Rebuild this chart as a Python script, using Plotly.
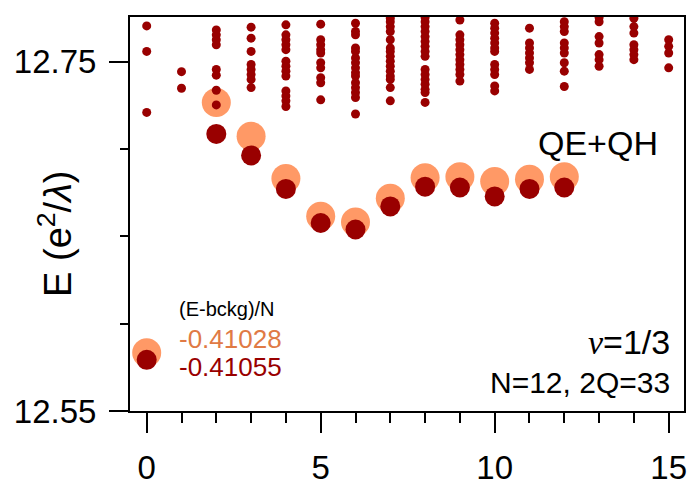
import plotly.graph_objects as go

# ---------------- data ----------------
L_ground = [0, 2, 3, 4, 5, 6, 7, 8, 9, 10, 11, 12]
E_qeqh_light = [12.5834, 12.7266, 12.7073, 12.6831, 12.6614, 12.6582, 12.6718,
                12.6835, 12.6841, 12.6813, 12.6827, 12.6841]
E_qeqh_dark = [12.5793, 12.7086, 12.6963, 12.6771, 12.6576, 12.6539, 12.6671,
               12.6784, 12.6779, 12.6728, 12.6771, 12.6779]

L_spectrum = list(range(16))
E_spectrum = [
    [12.7704, 12.7558, 12.7209],
    [12.7442, 12.7347],
    [12.7681, 12.7653, 12.7625, 12.7596, 12.7455, 12.7422, 12.7336, 12.7252],
    [12.7697, 12.7634, 12.7558, 12.7483, 12.7455, 12.7426, 12.7398, 12.7351],
    [12.7710, 12.7653, 12.7625, 12.7596, 12.7568, 12.7502, 12.7473, 12.7445,
     12.7417, 12.7332, 12.7303, 12.7275, 12.7243],
    [12.7714, 12.7625, 12.7596, 12.7568, 12.7549, 12.7493, 12.7464, 12.7408,
     12.7379, 12.7281],
    [12.7719, 12.7672, 12.7653, 12.7578, 12.7558, 12.7521, 12.7493, 12.7464,
     12.7436, 12.7417, 12.7379, 12.7351, 12.7323, 12.7294, 12.7200],
    [12.7748, 12.7728, 12.7700, 12.7672, 12.7625, 12.7578, 12.7558, 12.7530,
     12.7502, 12.7473, 12.7445, 12.7417, 12.7398, 12.7351, 12.7275],
    [12.7752, 12.7728, 12.7700, 12.7672, 12.7643, 12.7615, 12.7587, 12.7558,
     12.7530, 12.7455, 12.7426, 12.7398, 12.7370, 12.7341, 12.7323, 12.7266],
    [12.7738, 12.7653, 12.7625, 12.7596, 12.7568, 12.7540, 12.7511, 12.7483,
     12.7455, 12.7426, 12.7388],
    [12.7719, 12.7691, 12.7663, 12.7634, 12.7606, 12.7578, 12.7558, 12.7483,
     12.7455, 12.7426, 12.7360, 12.7332],
    [12.7691, 12.7606, 12.7578, 12.7549, 12.7521, 12.7493, 12.7455],
    [12.7728, 12.7700, 12.7672, 12.7606, 12.7578, 12.7549, 12.7493, 12.7445, 12.7357],
    [12.7752, 12.7728, 12.7643, 12.7606, 12.7540, 12.7511, 12.7473],
    [12.7748, 12.7700, 12.7663, 12.7596, 12.7568, 12.7540, 12.7511],
    [12.7625, 12.7587, 12.7549, 12.7464],
]

x_ticks = [0, 5, 10, 15]
y_ticks = [12.55, 12.75]
y_ticktext = ["12.55", "12.75"]

# ---------------- styling ----------------
FONT = "Liberation Sans, Arial, sans-serif"
ORANGE = "#FF9966"
ORANGE_TXT = "#E07A45"
DARK = "#990000"

x_spec = [L for L, levels in zip(L_spectrum, E_spectrum) for _ in levels]
y_spec = [e for levels in E_spectrum for e in levels]

fig = go.Figure()
fig.add_trace(go.Scatter(x=L_ground, y=E_qeqh_light, mode="markers",
                         marker=dict(color=ORANGE, size=29, line=dict(width=0)),
                         hoverinfo="skip", showlegend=False))
fig.add_trace(go.Scatter(x=L_ground, y=E_qeqh_dark, mode="markers",
                         marker=dict(color=DARK, size=20, line=dict(width=0)),
                         hoverinfo="skip", showlegend=False))
fig.add_trace(go.Scatter(x=x_spec, y=y_spec, mode="markers",
                         marker=dict(color=DARK, size=9, line=dict(width=0)),
                         hoverinfo="skip", showlegend=False))

axis_common = dict(showline=True, linecolor="black", linewidth=2, mirror=True,
                   ticks="outside", tickwidth=2, tickcolor="black",
                   showgrid=False, zeroline=False,
                   tickfont=dict(family=FONT, size=33, color="black"))

fig.update_xaxes(range=[-0.48, 15.44], tickvals=x_ticks, ticklen=20,
                 ticklabelstandoff=6,
                 minor=dict(ticks="outside", ticklen=10, tickwidth=2,
                            tickcolor="black", dtick=1, tick0=0, showgrid=False),
                 **axis_common)
fig.update_yaxes(range=[12.55, 12.7755], tickvals=y_ticks, ticktext=y_ticktext,
                 ticklen=19, ticklabelstandoff=6,
                 minor=dict(ticks="outside", ticklen=8, tickwidth=2,
                            tickcolor="black", dtick=0.05, tick0=12.55,
                            showgrid=False),
                 **axis_common)

annotations = [
    dict(text="E (e<sup>2</sup>/<i>λ</i>)", x=-0.135, y=0.45, textangle=-90,
         font=dict(family=FONT, size=38, color="black"),
         xanchor="center", yanchor="middle"),
    dict(text="QE+QH", x=0.957, y=0.68, xanchor="right", yanchor="middle",
         font=dict(family=FONT, size=34, color="black")),
    dict(text="<span style='font-family:Liberation Serif, DejaVu Serif, serif'><i>ν</i></span>=1/3",
         x=0.978, y=0.174, xanchor="right", yanchor="middle",
         font=dict(family=FONT, size=34, color="black")),
    dict(text="N=12, 2Q=33", x=0.978, y=0.073, xanchor="right", yanchor="middle",
         font=dict(family=FONT, size=30, color="black")),
    dict(text="(E-bckg)/N", x=0.084, y=0.259, xanchor="left", yanchor="middle",
         font=dict(family=FONT, size=20, color="black")),
    dict(text="-0.41028", x=0.084, y=0.183, xanchor="left", yanchor="middle",
         font=dict(family=FONT, size=26, color=ORANGE_TXT)),
    dict(text="-0.41055", x=0.084, y=0.111, xanchor="left", yanchor="middle",
         font=dict(family=FONT, size=26, color=DARK)),
]
for a in annotations:
    a.update(xref="paper", yref="paper", showarrow=False)

fig.update_layout(width=692, height=491,
                  margin=dict(l=130, r=5, t=17, b=76),
                  plot_bgcolor="white", paper_bgcolor="white",
                  annotations=annotations)

fig.write_html("out.html")
